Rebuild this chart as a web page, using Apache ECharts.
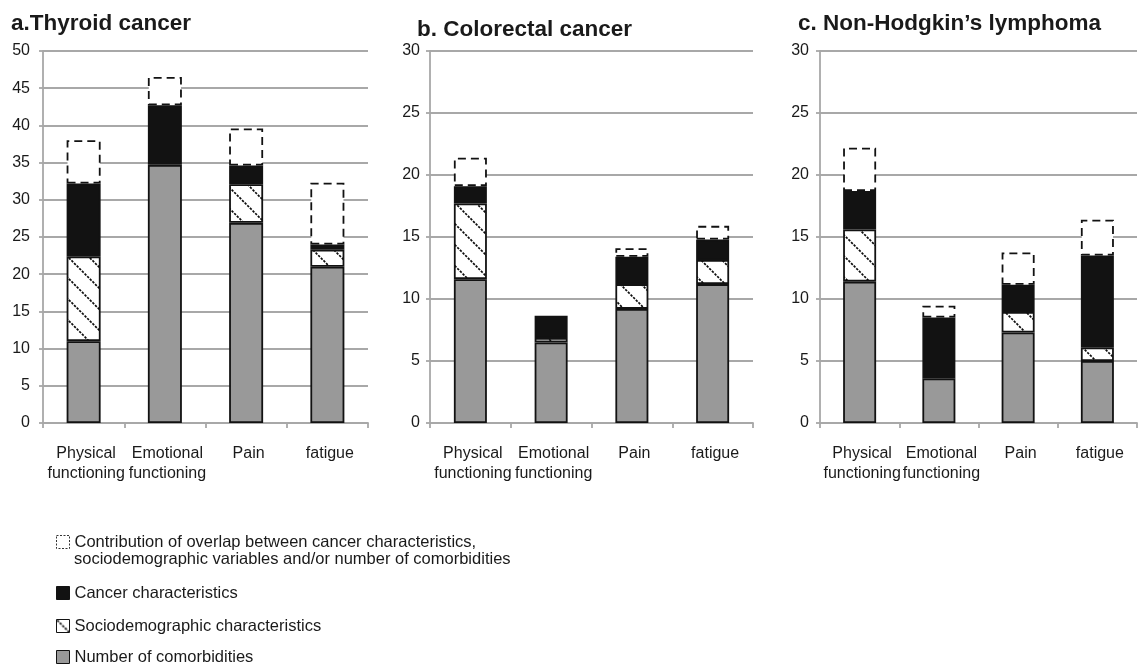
<!DOCTYPE html>
<html>
<head>
<meta charset="utf-8">
<title>Explained variance by domain</title>
<script src="https://cdn.jsdelivr.net/npm/echarts@6/dist/echarts.min.js"></script>
<style>
  html, body { margin: 0; padding: 0; background: #fff; }
  #chart { width: 1138px; height: 664px; }
</style>
</head>
<body>
<div id="chart"></div>
<script>
// Outcome domains on the x axis (shared by all three panels)
const categories = ['Physical\nfunctioning', 'Emotional\nfunctioning', 'Pain', 'fatigue'];

// Panel titles
const panelTitles = ['a.Thyroid cancer', 'b. Colorectal cancer', 'c. Non-Hodgkin\u2019s lymphoma'];

// Y axis ranges per panel
const yMax = [50, 30, 30];
const yStep = 5;

// Legend / series labels
const labelOverlap = 'Contribution of overlap between cancer characteristics,';
const labelOverlapCont = 'sociodemographic variables and/or number of comorbidities';
const labelCancer = 'Cancer characteristics';
const labelSocio = 'Sociodemographic characteristics';
const labelComorb = 'Number of comorbidities';

// a. Thyroid cancer (stacked from the bottom)
const thyroidComorbidities   = [11.0, 34.7, 26.9, 21.0];
const thyroidSociodemographic = [11.4, 0, 5.2, 2.3];
const thyroidCancer          = [9.8, 8.0, 2.5, 0.7];
const thyroidOverlap         = [5.8, 3.8, 5.0, 8.3];

// b. Colorectal cancer
const colorectalComorbidities   = [11.6, 6.5, 9.2, 11.2];
const colorectalSociodemographic = [6.1, 0.35, 2.0, 1.95];
const colorectalCancer          = [1.4, 1.8, 2.2, 1.65];
const colorectalOverlap         = [2.3, 0, 0.7, 1.1];

// c. Non-Hodgkin's lymphoma
const nhlComorbidities   = [11.4, 3.6, 7.3, 5.0];
const nhlSociodemographic = [4.2, 0, 1.65, 1.1];
const nhlCancer          = [3.1, 4.9, 2.2, 7.4];
const nhlOverlap         = [3.5, 0.95, 2.6, 2.9];

const panels = [
  [thyroidComorbidities, thyroidSociodemographic, thyroidCancer, thyroidOverlap],
  [colorectalComorbidities, colorectalSociodemographic, colorectalCancer, colorectalOverlap],
  [nhlComorbidities, nhlSociodemographic, nhlCancer, nhlOverlap]
];

const FONT = '"Liberation Sans", Arial, Helvetica, sans-serif';
const TEXT = '#1a1a1a';
const GRID_GREY = '#a8a8a8';
const INK = '#121212';

// Diagonal hatch tile for the sociodemographic segments
function makeHatch() {
  const S = 21;
  const c = document.createElement('canvas');
  c.width = S; c.height = S;
  const ctx = c.getContext('2d');
  ctx.fillStyle = '#ffffff';
  ctx.fillRect(0, 0, S, S);
  ctx.strokeStyle = '#0d0d0d';
  ctx.lineWidth = 1.7;
  ctx.setLineDash([2.4, 1.3]);
  for (let k = -1; k <= 1; k++) {
    ctx.beginPath();
    ctx.moveTo(k * S - 2, -2);
    ctx.lineTo(k * S + S + 2, S + 2);
    ctx.stroke();
  }
  return c;
}
const hatch = { image: makeHatch(), repeat: 'repeat' };

const segmentStyles = [
  { name: labelComorb, itemStyle: { color: '#999999', borderColor: INK, borderWidth: 1.8 } },
  { name: labelSocio, itemStyle: { color: hatch, borderColor: INK, borderWidth: 1.8 } },
  { name: labelCancer, itemStyle: { color: INK, borderColor: INK, borderWidth: 1.8 } },
  { name: labelOverlap, itemStyle: { color: '#ffffff', borderColor: INK, borderWidth: 1.8, borderType: [8, 5] } }
];

// Panel geometry
const grids = [
  { left: 43, top: 51, width: 325, height: 372 },
  { left: 430, top: 51, width: 323, height: 372 },
  { left: 820, top: 51, width: 317, height: 372 }
];
const barWidths = [34, 33, 33];
const yLabelMargin = [13, 10, 11];
const titlePos = [
  { left: 11, top: 12 },
  { left: 417, top: 18 },
  { left: 798, top: 12 }
];

const xAxes = [], yAxes = [], series = [], titles = [];
panels.forEach((vals, i) => {
  titles.push({
    text: panelTitles[i],
    left: titlePos[i].left,
    top: titlePos[i].top,
    padding: 0,
    textStyle: { fontFamily: FONT, fontSize: 22.5, fontWeight: 'bold', color: TEXT }
  });
  xAxes.push({
    type: 'category',
    gridIndex: i,
    data: categories,
    boundaryGap: true,
    axisLine: { lineStyle: { color: GRID_GREY, width: 1.8 } },
    axisTick: { show: true, length: 5, lineStyle: { color: GRID_GREY, width: 1.8 } },
    axisLabel: {
      interval: 0, margin: 21, fontFamily: FONT, fontSize: 16, lineHeight: 20, color: TEXT,
      padding: [0, 0, 0, 5]
    }
  });
  yAxes.push({
    type: 'value',
    gridIndex: i,
    min: 0,
    max: yMax[i],
    interval: yStep,
    axisLine: { show: true, lineStyle: { color: GRID_GREY, width: 1.8 } },
    axisTick: { show: true, length: 4, lineStyle: { color: GRID_GREY, width: 1.8 } },
    splitLine: { lineStyle: { color: GRID_GREY, width: 1.8 } },
    axisLabel: { margin: yLabelMargin[i], fontFamily: FONT, fontSize: 16, color: TEXT }
  });
  vals.forEach((arr, j) => {
    series.push({
      type: 'bar',
      name: segmentStyles[j].name,
      xAxisIndex: i,
      yAxisIndex: i,
      stack: 'panel' + i,
      barWidth: barWidths[i],
      itemStyle: segmentStyles[j].itemStyle,
      silent: true,
      data: arr.map(v => (v > 0 ? v : '-'))
    });
  });
});

// One legend entry per row, each placed at its own vertical position
const LEGEND_LINE = 17.5;
const legendRows = [
  { name: labelOverlap, center: 542, itemStyle: { borderWidth: 1, borderType: [2, 1.5], borderColor: '#333' } },
  { name: labelCancer, center: 593, itemStyle: { borderWidth: 1 } },
  { name: labelSocio, center: 626, itemStyle: { borderWidth: 1 } },
  { name: labelComorb, center: 657, itemStyle: { borderWidth: 1 } }
];
const legends = legendRows.map(r => ({
  orient: 'vertical',
  left: 56,
  top: r.center - LEGEND_LINE / 2,
  padding: 0,
  icon: 'rect',
  itemWidth: 13,
  itemHeight: 13,
  selectedMode: false,
  textStyle: { fontFamily: FONT, fontSize: 16.5, lineHeight: LEGEND_LINE, color: TEXT },
  data: [{ name: r.name, itemStyle: r.itemStyle }]
}));

const chart = echarts.init(document.getElementById('chart'), null, { renderer: 'canvas' });
chart.setOption({
  animation: false,
  backgroundColor: '#ffffff',
  title: titles,
  grid: grids,
  xAxis: xAxes,
  yAxis: yAxes,
  legend: legends,
  // second line of the overlap legend entry, aligned under the first line's text
  graphic: [{
    type: 'text',
    left: 74,
    top: 559 - LEGEND_LINE / 2,
    silent: true,
    style: {
      text: labelOverlapCont,
      font: '16.5px ' + FONT,
      lineHeight: LEGEND_LINE,
      fill: TEXT
    }
  }],
  series: series
});
</script>
</body>
</html>
